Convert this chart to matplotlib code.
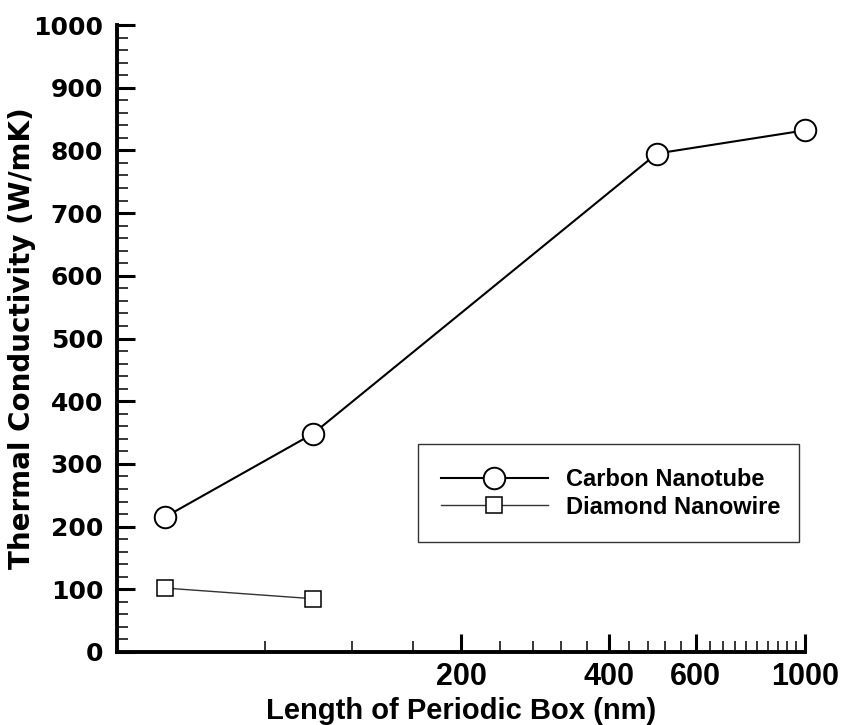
import matplotlib
matplotlib.use('Agg')
import matplotlib.pyplot as plt
from matplotlib.ticker import FixedLocator, NullFormatter

# Dados
cnt_length = [50, 100, 500, 1000]
cnt_k = [215, 348, 795, 832]
dnw_length = [50, 100]
dnw_k = [102, 85]

x_major = [200, 400, 600, 1000]
x_minor = [v for v in range(40, 1001, 40) if v not in x_major]

plt.rcParams['font.family'] = ['Liberation Sans', 'DejaVu Sans']
plt.rcParams['font.weight'] = 'bold'

fig = plt.figure(figsize=(8.42, 7.25), dpi=100)
ax = fig.add_axes([0.139, 0.1007, 0.817, 0.8648])

ax.plot(cnt_length, cnt_k, color='black', linewidth=1.5, marker='o',
        markersize=15.5, markerfacecolor='white', markeredgecolor='black',
        markeredgewidth=1.4, label='Carbon Nanotube', clip_on=False)
ax.plot(dnw_length, dnw_k, color='#333333', linewidth=1.0, marker='s',
        markersize=12, markerfacecolor='white', markeredgecolor='black',
        markeredgewidth=1.1, label='Diamond Nanowire', clip_on=False)

ax.set_xscale('log')
ax.set_xlim(40, 1000)
ax.set_ylim(0, 1000)

ax.xaxis.set_major_locator(FixedLocator(x_major))
ax.xaxis.set_minor_locator(FixedLocator(x_minor))
ax.xaxis.set_minor_formatter(NullFormatter())
ax.set_xticklabels([str(v) for v in x_major])
ax.set_yticks(range(0, 1001, 100))
ax.set_yticks(range(0, 1001, 20), minor=True)

for side in ['top', 'right']:
    ax.spines[side].set_visible(False)
for side in ['left', 'bottom']:
    ax.spines[side].set_linewidth(2.8)

ax.tick_params(axis='both', which='major', direction='in', length=13, width=2.2)
ax.tick_params(axis='both', which='minor', direction='in', length=8, width=1.1)
ax.tick_params(axis='x', which='major', labelsize=22, pad=7)
ax.tick_params(axis='y', which='major', pad=10)
for lab in ax.get_yticklabels():
    lab.set_family('DejaVu Sans')
    lab.set_fontsize(18)
    lab.set_fontweight('bold')

ax.set_xlabel('Length of Periodic Box (nm)', fontsize=21, fontweight='bold', labelpad=4)
ax.set_ylabel('Thermal Conductivity (W/mK)', fontsize=20, fontweight='bold',
              family='DejaVu Sans')
ax.yaxis.set_label_coords(-0.118, 0.5)

leg = ax.legend(loc='lower left', bbox_to_anchor=(0.437, 0.175, 0.555, 0.157),
                mode='expand', fontsize=17, frameon=True, fancybox=False,
                edgecolor='black', handlelength=4.5, borderaxespad=0,
                borderpad=1.0, labelspacing=0.2)
leg.get_frame().set_linewidth(1.0)
for t in leg.get_texts():
    t.set_fontweight('bold')

plt.savefig('out.png', dpi=100)
plt.close()
